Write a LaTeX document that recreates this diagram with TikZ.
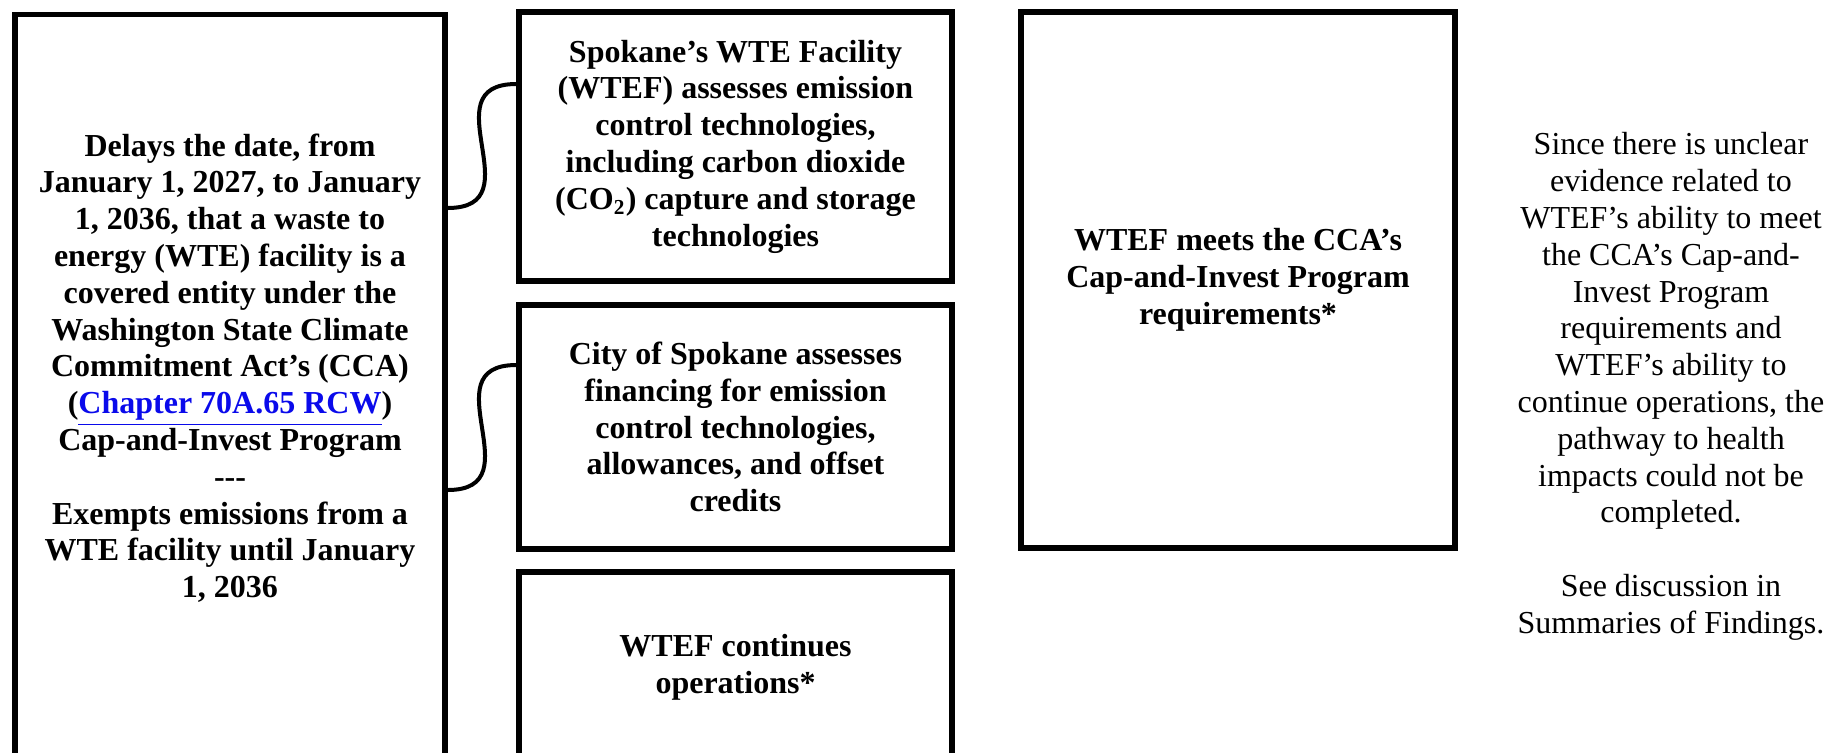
\documentclass[tikz,border=0pt]{standalone}
\usepackage{fontspec}
\setmainfont{Liberation Serif}

\definecolor{linkblue}{RGB}{10,10,235}

\tikzset{
    boxtext/.style={align=center, font=\bfseries\fontsize{12pt}{13.8pt}\selectfont},
    box/.style={boxtext, draw, line width=2pt, inner sep=0pt},
    link/.style={line width=1.5pt},
    note/.style={align=center, font=\fontsize{12pt}{13.8pt}\selectfont},
}

\begin{document}
\begin{tikzpicture}[x=0.375pt, y=-0.375pt]
    \useasboundingbox (0,0) rectangle (1828,752);
    \clip (0,0) rectangle (1828,752);

    \def\xl{230};
    \def\xm{735.5};
    \def\xr{1238};
    \def\xn{1671};

% left box, runs past the bottom edge

    \node[box, minimum width=161.25pt, minimum height=300pt, anchor=north] (law) at (\xl, 12) {};
    \node[boxtext] (lawtext) at (\xl, 368) {Delays the date, from\\
        January 1, 2027, to January\\
        1, 2036, that a waste to\\
        energy (WTE) facility is a\\
        covered entity under the\\
        Washington State Climate\\
        Commitment Act's (CCA)\\
        (\textcolor{linkblue}{\underline{Chapter 70A.65 RCW}})\\
        Cap-and-Invest Program\\
        -{}-{}-\\
        Exempts emissions from a\\
        WTE facility until January\\
        1, 2036};

% middle column

    \node[box, minimum width=162.4pt, minimum height=100.9pt] (assess) at (\xm, 146.5) {Spokane's WTE Facility\\
        (WTEF) assesses emission\\
        control technologies,\\
        including carbon dioxide\\
        (CO\textsubscript{2}) capture and storage\\
        technologies};
    \node[box, minimum width=162.4pt, minimum height=91.5pt] (finance) at (\xm, 427) {City of Spokane assesses\\
        financing for emission\\
        control technologies,\\
        allowances, and offset\\
        credits};
    \node[box, minimum width=162.4pt, minimum height=71.25pt] (operate) at (\xm, 667) {WTEF continues\\operations*};

% right column

    \node[box, minimum width=162.75pt, minimum height=201pt] (meets) at (\xr, 280) {WTEF meets the CCA's\\
        Cap-and-Invest Program\\
        requirements*};
    \node[note] (finding) at (\xn, 386.5) {Since there is unclear\\
        evidence related to\\
        WTEF's ability to meet\\
        the CCA's Cap-and-\\
        Invest Program\\
        requirements and\\
        WTEF's ability to\\
        continue operations, the\\
        pathway to health\\
        impacts could not be\\
        completed.\\[13.8pt]
        See discussion in\\
        Summaries of Findings.};

% links from the left box

    \draw[link] (law.east |- 0,208) .. controls +(88,0) and +(-88,0) .. (assess.west |- 0,84);
    \draw[link] (law.east |- 0,490) .. controls +(88,0) and +(-88,0) .. (finance.west |- 0,365);

\end{tikzpicture}
\end{document}
